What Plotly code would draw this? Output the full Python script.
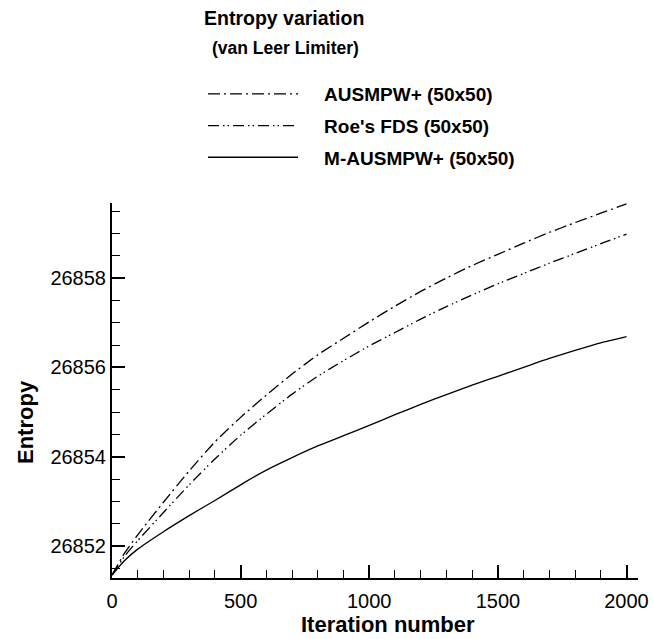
import plotly.graph_objects as go

iterations = [0, 50, 100, 200, 300, 400, 500, 600, 700, 800, 900, 1000,
              1100, 1200, 1300, 1400, 1500, 1600, 1700, 1800, 1900, 2000]
ausmpw = [26851.35, 26851.85, 26852.25, 26852.98, 26853.68, 26854.33, 26854.88,
          26855.38, 26855.85, 26856.28, 26856.65, 26857.02, 26857.37, 26857.70,
          26858.00, 26858.28, 26858.53, 26858.78, 26859.02, 26859.24, 26859.45, 26859.66]
roe_fds = [26851.35, 26851.78, 26852.12, 26852.75, 26853.37, 26853.95, 26854.48,
           26854.95, 26855.40, 26855.80, 26856.15, 26856.48, 26856.78, 26857.08,
           26857.36, 26857.62, 26857.87, 26858.10, 26858.33, 26858.55, 26858.77, 26858.98]
m_ausmpw = [26851.35, 26851.68, 26851.93, 26852.32, 26852.68, 26853.02, 26853.37,
            26853.70, 26853.98, 26854.24, 26854.47, 26854.70, 26854.94, 26855.17,
            26855.39, 26855.60, 26855.80, 26856.00, 26856.20, 26856.38, 26856.55, 26856.69]
series_names = ["AUSMPW+ (50x50)", "Roe's FDS (50x50)", "M-AUSMPW+ (50x50)"]
x_ticks = [0, 500, 1000, 1500, 2000]
y_ticks = [26852, 26854, 26856, 26858]

FONT = "Liberation Sans, Arial, Helvetica, sans-serif"
dashes = ["12px,4px,2px,4px", "11px,4px,1.5px,3px,1.5px,4px", "solid"]
PAD = "&nbsp;" * 4

fig = go.Figure()
for i, (name, ys) in enumerate(zip(series_names, [ausmpw, roe_fds, m_ausmpw])):
    fig.add_trace(go.Scatter(
        x=iterations, y=ys, mode="lines", name=PAD + name, legendgroup=str(i),
        line=dict(color="black", width=1.3, dash=dashes[i], shape="spline", smoothing=0.6),
    ))

axis_common = dict(
    showgrid=False, zeroline=False, showline=True, linecolor="black", linewidth=2,
    ticks="inside", ticklen=13, tickwidth=2, tickcolor="black", automargin=False,
    tickfont=dict(family=FONT, size=20, color="black"),
)
fig.update_xaxes(
    range=[0, 2044.7], tickvals=x_ticks, ticktext=[str(v) for v in x_ticks],
    minor=dict(dtick=100, tick0=0, ticks="inside", ticklen=8, tickwidth=1.3, tickcolor="black"),
    ticklabelstandoff=4, **axis_common,
)
fig.update_yaxes(
    range=[26851.284, 26859.679], tickvals=y_ticks, ticktext=[str(v) for v in y_ticks],
    minor=dict(dtick=0.5, tick0=26852, ticks="inside", ticklen=8, tickwidth=1.3, tickcolor="black"),
    ticklabelstandoff=0, **axis_common,
)

annotations = [
    dict(text="<b>Entropy variation</b>", x=284, y=18, font=dict(size=19.5)),
    dict(text="<b>(van Leer Limiter)</b>", x=285.5, y=48, font=dict(size=17.5)),
    dict(text="<b>Iteration number</b>", x=387.5, y=624, font=dict(size=22)),
    dict(text="<b>Entropy</b>", x=25, y=422, font=dict(size=22), textangle=-90),
]
ann = []
for a in annotations:
    d = dict(xref="paper", yref="paper", showarrow=False,
             xanchor="center", yanchor="middle")
    d["x"] = (a["x"] - 112) / 526
    d["y"] = (578 - a["y"]) / 375
    d["text"] = a["text"]
    d["font"] = dict(family=FONT, size=a["font"]["size"], color="black")
    if "textangle" in a:
        d["textangle"] = a["textangle"]
    ann.append(d)

fig.update_layout(
    template="none",
    width=653, height=639, autosize=False,
    margin=dict(l=112, r=15, t=203, b=61, autoexpand=False),
    paper_bgcolor="white", plot_bgcolor="white",
    annotations=ann,
    showlegend=True,
    legend=dict(
        x=(203 - 112) / 526, y=(578 - 75) / 375, xanchor="left", yanchor="top",
        font=dict(family=FONT, size=19, color="black", weight="bold"), itemwidth=90,
        tracegroupgap=4, bgcolor="rgba(0,0,0,0)", traceorder="grouped",
    ),
)
fig.write_html("out.html", config={"displayModeBar": False},
               post_script="document.body.style.margin='0';document.body.style.overflow='hidden';")
